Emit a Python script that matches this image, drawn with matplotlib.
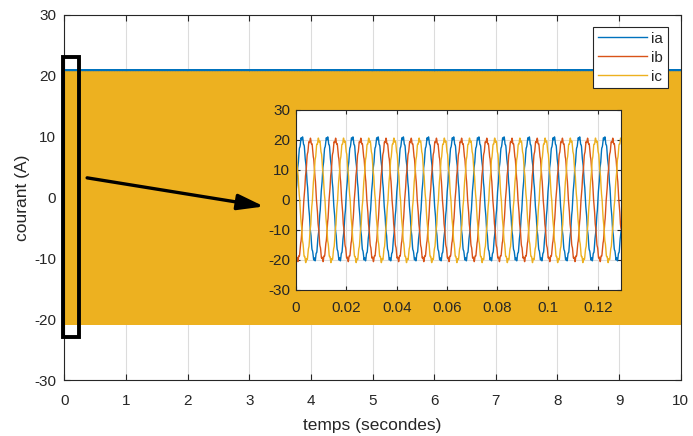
import numpy as np
import matplotlib
matplotlib.use("Agg")
import matplotlib.pyplot as plt
from matplotlib.ticker import FuncFormatter
from matplotlib.patches import Rectangle, FancyArrowPatch

plt.rcParams['font.family'] = ['Liberation Sans', 'DejaVu Sans']
plt.rcParams['axes.unicode_minus'] = False
plt.rcParams['agg.path.chunksize'] = 20000

# Three-phase stator currents: amplitude, offset, phase delay of the first peak
phase_names = ["ia", "ib", "ic"]
phase_colors = ["#0072BD", "#D95319", "#EDB120"]
amplitudes = [20.3, 20.0, 20.2]          # A
offsets = [0.35, 0.0, -0.15]             # A
peak_delays = [0.0024, 0.0057, 0.0090]   # s
frequency = 100.0                        # Hz
ripple_amp = [0.6, 0.6, 0.6]             # A
ripple_freq = 1500.0                     # Hz
sample_rate = 20000.0                    # Hz
t_end = 10.0                             # s

x_ticks_main = list(range(0, 11))
y_ticks = [-30, -20, -10, 0, 10, 20, 30]
x_ticks_zoom = [0, 0.02, 0.04, 0.06, 0.08, 0.1, 0.12]

t = np.arange(0, t_end, 1.0 / sample_rate)
currents = []
for A, off, d, r, k in zip(amplitudes, offsets, peak_delays, ripple_amp, range(3)):
    ph = 2 * np.pi * frequency * (t - d)
    i = A * np.cos(ph) + off + r * np.cos(2 * np.pi * ripple_freq * t + k * 2.1)
    currents.append(i)

text_c = "#262626"
grid_c = "#dcdcdc"
tick_fs = 11
label_fs = 12.5

fig = plt.figure(figsize=(6.93, 4.36), dpi=100)
ax = fig.add_axes([0.0928, 0.1284, 0.8895, 0.838])
for name, c, i in zip(phase_names, phase_colors, currents):
    ax.plot(t, i, color=c, lw=0.6, label=name)
ax.set_xlim(0, 10)
ax.set_ylim(-30, 30)
ax.set_xticks(x_ticks_main)
ax.set_yticks(y_ticks)
ax.grid(True, color=grid_c, lw=0.8)
ax.set_axisbelow(True)
ax.tick_params(direction='in', length=4, width=0.8, colors=text_c,
               labelsize=tick_fs, top=True, right=True)
ax.tick_params(axis='x', pad=10)
ax.tick_params(axis='y', pad=6)
for s in ax.spines.values():
    s.set_color(text_c)
    s.set_linewidth(0.8)
ax.set_xlabel("temps (secondes)", fontsize=label_fs, color=text_c, labelpad=7)
ax.set_ylabel("courant (A)", fontsize=label_fs, color=text_c, labelpad=3)

leg = ax.legend(loc='upper right', bbox_to_anchor=(0.979, 0.966),
                fontsize=tick_fs, frameon=True, fancybox=False, framealpha=1,
                edgecolor=text_c, handlelength=3.2, handletextpad=0.3,
                labelspacing=0.33, borderpad=0.3, borderaxespad=0)
leg.get_frame().set_linewidth(0.8)
for txt in leg.get_texts():
    txt.set_color(text_c)
for h in leg.legend_handles:
    h.set_linewidth(1.0)

# Zoom window marker and pointer towards the detail view
ax.add_patch(Rectangle((-0.02, -23.0), 0.26, 46.0, fill=False,
                       edgecolor='black', lw=2.8, zorder=5, clip_on=False))
ax.add_patch(FancyArrowPatch((0.37, 3.2), (3.24, -1.5),
                             arrowstyle='-|>,head_length=10,head_width=3',
                             color='black', lw=2.4, zorder=5,
                             shrinkA=0, shrinkB=0, mutation_scale=1.6))

# Detail view of the first 0.13 s
axi = fig.add_axes([0.427, 0.335, 0.469, 0.413])
n = int(0.135 * sample_rate)
for c, i in zip(phase_colors, currents):
    axi.plot(t[:n], i[:n], color=c, lw=1.0)
axi.set_xlim(0, 0.129)
axi.set_ylim(-30, 30)
axi.set_xticks(x_ticks_zoom)
axi.set_yticks(y_ticks)
axi.xaxis.set_major_formatter(FuncFormatter(lambda v, p: "%g" % round(v, 4)))
axi.grid(True, color=grid_c, lw=0.8)
axi.set_axisbelow(True)
axi.tick_params(direction='in', length=3, width=0.8, colors=text_c,
                labelsize=tick_fs, top=True, right=True)
axi.tick_params(axis='x', pad=8)
axi.tick_params(axis='y', pad=4)
for s in axi.spines.values():
    s.set_color(text_c)
    s.set_linewidth(0.8)

fig.savefig("out.png", dpi=100)
